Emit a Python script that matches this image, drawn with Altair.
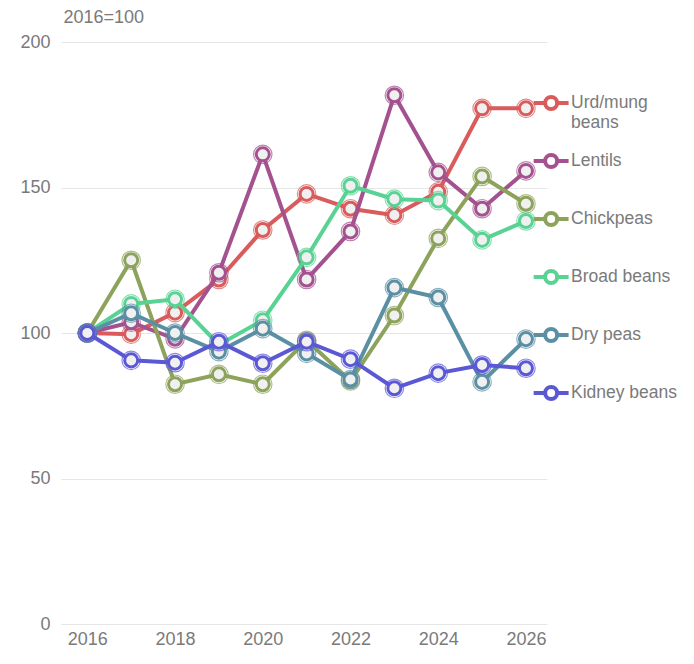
import altair as alt
import pandas as pd

years = list(range(2016, 2027))
series_names = ["Urd/mung beans", "Lentils", "Chickpeas", "Broad beans", "Dry peas", "Kidney beans"]
urd_mung = [100, 99.6, 107, 118.4, 135.4, 147.8, 142.7, 140.5, 148.5, 177.2, 177.2]
lentils = [100, 103.7, 98, 120.7, 161.4, 118.4, 134.9, 181.7, 155.2, 142.7, 155.7]
chickpeas = [100, 125, 82.4, 85.8, 82.4, 97.5, 83.5, 106, 132.5, 153.8, 144.4]
broad_beans = [100, 110, 111.6, 96, 104.4, 126, 150.6, 146, 145.5, 132, 138.5]
dry_peas = [100, 106.8, 100, 93.6, 101.5, 93, 84, 115.6, 112.2, 83.2, 97.9]
kidney_beans = [100, 90.6, 89.8, 97, 89.6, 97, 91, 81, 86.2, 89, 87.9]
colors = ["#d95b5b", "#a3528f", "#8da35c", "#58d393", "#5b8fa3", "#5b58d6"]

all_vals = [urd_mung, lentils, chickpeas, broad_beans, dry_peas, kidney_beans]
rows = []
for name, vals in zip(series_names, all_vals):
    for y, v in zip(years, vals):
        rows.append({"year": y, "value": v, "series": name})
df = pd.DataFrame(rows)

TXT = "#7a7a7a"
FONT = "Liberation Sans"

sym_path = ("M-0.42,0H0.046M0.534,0H1M0.534,0A0.244,0.244,0,1,1,0.046,0"
            "A0.244,0.244,0,1,1,0.534,0ZM0.29,0.90l0,0")

color = alt.Color(
    "series:N",
    scale=alt.Scale(domain=series_names, range=colors),
    legend=alt.Legend(
        title=None,
        orient="none",
        legendX=456,
        legendY=34,
        symbolType=sym_path,
        symbolSize=2420,
        symbolStrokeWidth=4,
        symbolFillColor="#f0f0f0",
        symbolOpacity=1,
        labelFontSize=17.5,
        labelColor=TXT,
        labelFont=FONT,
        labelOffset=0,
        rowPadding=0,
        labelLimit=200,
        labelExpr="datum.label == 'Urd/mung beans' ? ['Urd/mung', 'beans'] : datum.label",
    ),
)

x = alt.X(
    "year:Q",
    scale=alt.Scale(domain=[2015.4, 2026.48], nice=False, zero=False),
    axis=alt.Axis(
        values=[2016, 2018, 2020, 2022, 2024, 2026],
        format="d",
        grid=False,
        domain=False,
        ticks=False,
        labelPadding=6,
        labelFontSize=18,
        labelColor=TXT,
        labelFont=FONT,
        title=None,
    ),
)
y = alt.Y(
    "value:Q",
    scale=alt.Scale(domain=[0, 200], nice=False),
    axis=alt.Axis(
        values=[0, 50, 100, 150, 200],
        grid=True,
        gridColor="#e6e6e6",
        domain=False,
        ticks=False,
        labelPadding=11,
        labelFontSize=18,
        labelColor=TXT,
        labelFont=FONT,
        title="2016=100",
        titleAngle=0,
        titleAlign="left",
        titleBaseline="middle",
        titleX=2,
        titleY=-25,
        titleFontSize=18,
        titleFontWeight="normal",
        titleColor=TXT,
        titleFont=FONT,
    ),
)

base = alt.Chart(df)
layers = []
for name in series_names:
    sub = base.transform_filter(alt.datum.series == name)
    line = sub.mark_line(strokeWidth=4).encode(x=x, y=y, color=color)
    outer = sub.mark_point(filled=False, size=340, strokeWidth=1.2, opacity=0.7).encode(x=x, y=y, color=color)
    inner = sub.mark_point(filled=False, size=170, strokeWidth=3, fill="#f0f0f0", fillOpacity=1).encode(
        x=x, y=y, color=color
    )
    layers += [line, outer, inner]

chart = alt.layer(*layers).properties(
    width=486, height=582, padding={"left": 11, "top": 0, "right": 0, "bottom": 0}
).configure_view(stroke=None)

chart.save("out.html", embed_options={"renderer": "svg", "actions": False})
